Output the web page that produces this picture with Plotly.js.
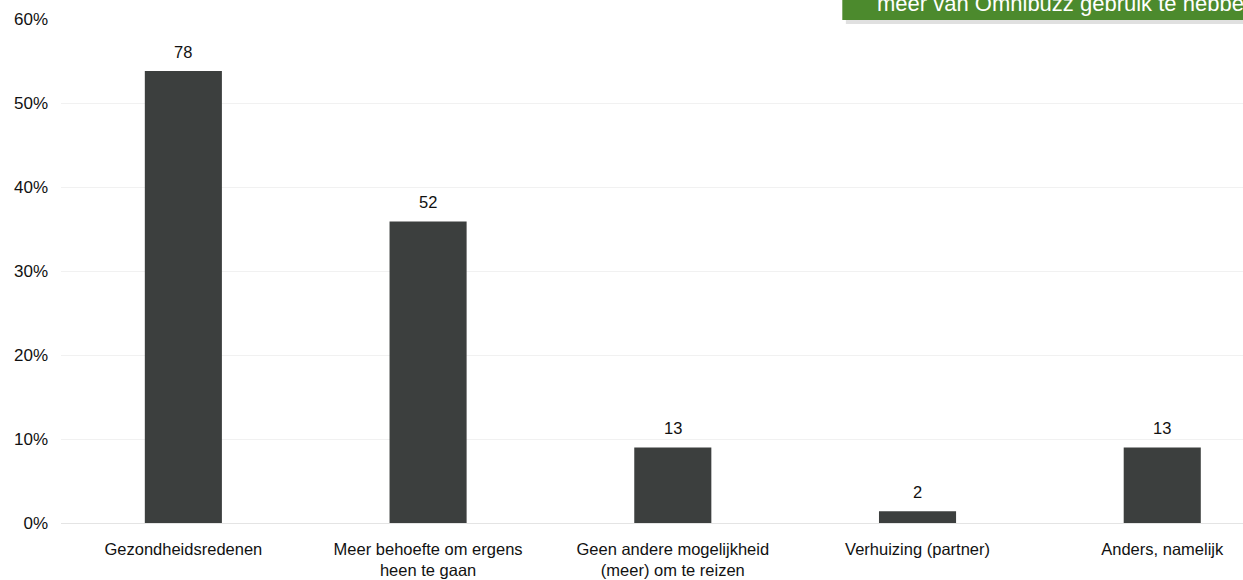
<!DOCTYPE html>
<html>
<head>
<meta charset="utf-8">
<script src="https://cdn.plot.ly/plotly-3.0.1.min.js"></script>
<style>html,body{margin:0;padding:0;background:#fff;}#chart{width:1243px;height:580px;}</style>
</head>
<body>
<div id="chart"></div>
<script>
var categories = [
  "Gezondheidsredenen",
  "Meer behoefte om ergens<br>heen te gaan",
  "Geen andere mogelijkheid<br>(meer) om te reizen",
  "Verhuizing (partner)",
  "Anders, namelijk"
];
var percentages = [53.8, 35.9, 9.0, 1.4, 9.0];
var counts = [78, 52, 13, 2, 13];
var yTickValues = [0, 10, 20, 30, 40, 50, 60];
var yTickLabels = ["0%", "10%", "20%", "30%", "40%", "50%", "60%"];
var boxText = "meer van Omnibuzz gebruik te hebben";

var font = "Liberation Sans, Arial, sans-serif";

var trace = {
  type: "bar",
  x: categories,
  y: percentages,
  marker: {color: "#3c3f3e", line: {width: 0}},
  hoverinfo: "skip"
};

var annotations = categories.map(function (c, i) {
  return {
    x: c, y: percentages[i], xref: "x", yref: "y",
    text: String(counts[i]), showarrow: false,
    yanchor: "bottom", yshift: 8,
    font: {family: font, size: 16.5, color: "#111111"}
  };
});
annotations.push({
  xref: "paper", yref: "paper", x: 0.6885, y: 1.030,
  xanchor: "left", yanchor: "middle",
  text: boxText, showarrow: false,
  font: {family: font, size: 22, color: "#ffffff"}
});

var layout = {
  width: 1243, height: 580,
  margin: {l: 61, r: 0, t: 19, b: 57},
  paper_bgcolor: "#ffffff", plot_bgcolor: "#ffffff",
  showlegend: false,
  bargap: 0.685,
  font: {family: font, size: 16.5, color: "#111111"},
  xaxis: {
    range: [-0.5, 4.33], showgrid: false, zeroline: false, showline: false,
    ticks: "", ticklabelstandoff: 14,
    tickfont: {family: font, size: 16.5, color: "#111111"}
  },
  yaxis: {
    range: [0, 60], tickmode: "array", tickvals: yTickValues, ticktext: yTickLabels,
    showgrid: true, gridcolor: "#f1f1f1", gridwidth: 1,
    zeroline: true, zerolinecolor: "#e4e4e4", showline: false,
    ticks: "", ticklabelstandoff: 12,
    tickfont: {family: font, size: 17, color: "#111111"}
  },
  shapes: [
    {type: "rect", xref: "paper", yref: "paper", x0: 0.664, x1: 1.05, y0: 0.990, y1: 0.999,
     fillcolor: "rgba(0,0,0,0.12)", line: {width: 0}, layer: "above"},
    {type: "rect", xref: "paper", yref: "paper", x0: 0.661, x1: 1.05, y0: 0.998, y1: 1.1,
     fillcolor: "#4c8a2d", line: {width: 0}, layer: "above"}
  ],
  annotations: annotations
};

Plotly.newPlot("chart", [trace], layout, {displayModeBar: false, staticPlot: true});
</script>
</body>
</html>
